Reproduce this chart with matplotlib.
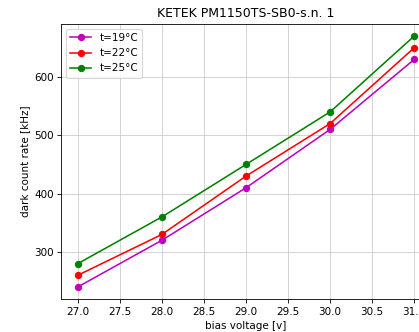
import matplotlib.pyplot as plt
import numpy as np

bias_voltage = [27.0, 28.0, 29.0, 30.0, 31.0]
rate_19 = [240, 320, 410, 510, 630]
rate_22 = [260, 330, 430, 520, 650]
rate_25 = [280, 360, 450, 540, 670]
labels = ["t=19°C", "t=22°C", "t=25°C"]

# original looks like a default-style plot rendered at a low dpi
dpi = 75
fig = plt.figure(figsize=(419 / dpi, 332 / dpi), dpi=dpi)
# axes run past the right edge, as in the (cropped) original
ax = fig.add_axes([0.1456, 0.098, 0.883, 0.831])
for vals, color, label in zip([rate_19, rate_22, rate_25], ['m', 'r', 'g'], labels):
    ax.plot(bias_voltage, vals, '-o', color=color, label=label)
ax.set_xticks(np.arange(27.0, 31.5, 0.5))
ax.set_yticks([300, 400, 500, 600])
ax.grid(True, color='#cccccc')
ax.set_xlabel("bias voltage [v]")
ax.set_ylabel("dark count rate [kHz]")
ax.set_title("KETEK PM1150TS-SB0-s.n. 1")
ax.legend(loc="upper left")
fig.savefig("out.png", dpi=dpi)
